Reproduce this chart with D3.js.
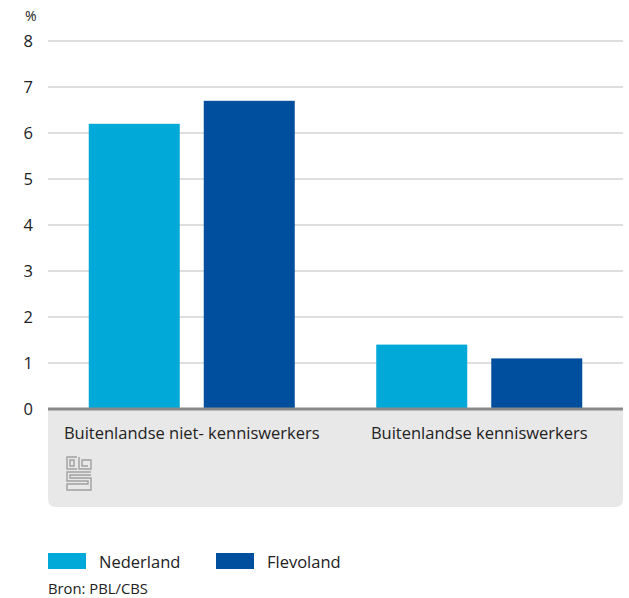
<!DOCTYPE html>
<html>
<head>
<meta charset="utf-8">
<script src="https://cdn.jsdelivr.net/npm/d3@7"></script>
<style>
  body { margin: 0; background: #fff; }
  text { font-family: "Open Sans", "Noto Sans", sans-serif; fill: #222; }
</style>
</head>
<body>
<div id="chart"></div>
<script>
// data
const categories = ["Buitenlandse niet- kenniswerkers", "Buitenlandse kenniswerkers"];
const seriesNames = ["Nederland", "Flevoland"];
const nederland = [6.2, 1.4];
const flevoland = [6.7, 1.1];
const yTicks = [0, 1, 2, 3, 4, 5, 6, 7, 8];
const colors = ["#00a9d8", "#004f9e"];

const width = 629, height = 598;
const margin = {top: 41, right: 6, bottom: 189, left: 48};
const w = width - margin.left - margin.right;
const h = height - margin.top - margin.bottom;

const svg = d3.select("#chart").append("svg")
    .attr("width", width)
    .attr("height", height);

const g = svg.append("g")
    .attr("transform", "translate(" + margin.left + "," + margin.top + ")");

const x0 = d3.scaleBand().domain(categories).range([0, w]);
const x1 = d3.scaleBand().domain(seriesNames)
    .range([40.75, x0.bandwidth() - 40.75])
    .paddingInner(24 / 115);
const y = d3.scaleLinear().domain([0, 8]).range([h, 0]);

// grey label box under axis
const boxH = 98, r = 8;
g.append("path")
    .attr("d", "M0," + h + "H" + w + "V" + (h + boxH - r) +
        "Q" + w + "," + (h + boxH) + " " + (w - r) + "," + (h + boxH) +
        "H" + r + "Q0," + (h + boxH) + " 0," + (h + boxH - r) + "Z")
    .attr("fill", "#e8e8e8");

// gridlines
g.append("g")
    .selectAll("line")
    .data(yTicks.filter(d => d > 0))
    .join("line")
    .attr("x1", 0).attr("x2", w)
    .attr("y1", d => y(d)).attr("y2", d => y(d))
    .attr("stroke", "#bdbdbd")
    .attr("stroke-width", 1);

// y axis labels
const yAxis = d3.axisLeft(y).tickValues(yTicks).tickSize(0).tickPadding(15);
g.append("g").call(yAxis)
    .call(s => s.select(".domain").remove())
    .selectAll("text")
    .attr("font-family", "'Open Sans', sans-serif")
    .attr("font-size", "16.5px")
    .attr("fill", "#222");

g.append("text")
    .attr("x", -23).attr("y", -20)
    .attr("font-size", "14px")
    .text("%");

// bars
const data = categories.map((c, i) => ({cat: c, values: [nederland[i], flevoland[i]]}));
const groups = g.selectAll(".group")
    .data(data)
    .join("g")
    .attr("class", "group")
    .attr("transform", d => "translate(" + x0(d.cat) + ",0)");

groups.selectAll("rect")
    .data(d => d.values.map((v, j) => ({name: seriesNames[j], value: v})))
    .join("rect")
    .attr("x", d => x1(d.name))
    .attr("width", x1.bandwidth())
    .attr("y", d => y(d.value))
    .attr("height", d => y(0) - y(d.value))
    .attr("fill", (d, j) => colors[j]);

// baseline
g.append("line")
    .attr("x1", 0).attr("x2", w)
    .attr("y1", y(0)).attr("y2", y(0))
    .attr("stroke", "#8a8a8a")
    .attr("stroke-width", 3);

// category labels
g.selectAll(".cat-label")
    .data(categories)
    .join("text")
    .attr("class", "cat-label")
    .attr("x", d => x0(d) + x0.bandwidth() / 2)
    .attr("y", h + 30)
    .attr("text-anchor", "middle")
    .attr("font-size", "16.5px")
    .text(d => d);

// cbs logo
const logo = svg.append("g")
    .attr("transform", "translate(66,456)")
    .attr("fill", "none")
    .attr("stroke", "#a0a0a0")
    .attr("stroke-width", 1.4);
logo.append("path").attr("d", "M11,1H1V13H11");
logo.append("path").attr("d", "M4,4H8V10H4Z");
logo.append("path").attr("d", "M13,1V13H25V4H16V10H22");
logo.append("path").attr("d", "M25,16H1V25H22V28H1V34H25V22H4V19H25");

// legend
const legend = svg.append("g").attr("transform", "translate(48,553)");
const legX = [0, 168];
seriesNames.forEach((n, i) => {
    legend.append("rect")
        .attr("x", legX[i]).attr("y", 0)
        .attr("width", 38).attr("height", 16)
        .attr("fill", colors[i]);
    legend.append("text")
        .attr("x", legX[i] + 51).attr("y", 15)
        .attr("font-size", "16.5px")
        .text(n);
});

svg.append("text")
    .attr("x", 48).attr("y", 594)
    .attr("font-size", "14.8px")
    .text("Bron: PBL/CBS");
</script>
</body>
</html>
